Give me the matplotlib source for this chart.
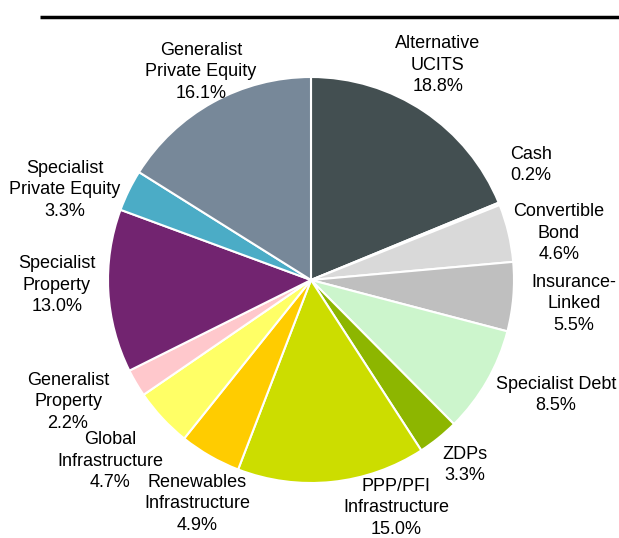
import matplotlib
matplotlib.use("Agg")
import matplotlib.pyplot as plt
import numpy as np

labels = ["Alternative\nUCITS", "Cash", "Convertible\nBond", "Insurance-\nLinked",
          "Specialist Debt", "ZDPs", "PPP/PFI\nInfrastructure", "Renewables\nInfrastructure",
          "Global\nInfrastructure", "Generalist\nProperty", "Specialist\nProperty",
          "Specialist\nPrivate Equity", "Generalist\nPrivate Equity"]
values = [18.8, 0.2, 4.6, 5.5, 8.5, 3.3, 15.0, 4.9, 4.7, 2.2, 13.0, 3.3, 16.1]
colors = ["#434f51", "#f2f2f2", "#d9d9d9", "#bfbfbf", "#ccf5cc", "#8db600", "#ccdd00",
          "#ffcc00", "#ffff66", "#ffc8cc", "#722470", "#4bacc6", "#778899"]

# label positions in pixel coords (layout)
label_pos = [(438, 65), (510, 165), (559, 233), (574, 304), (556, 395), (465, 465),
             (396, 508), (197, 504), (110, 461), (68, 402), (57, 285), (65, 190), (201, 72)]
label_ha = ["center", "left", "center", "center", "center", "center", "center", "center",
            "center", "center", "center", "center", "center"]

W, H = 619, 538
fig = plt.figure(figsize=(W / 100, H / 100), dpi=100)
ax = fig.add_axes([0, 0, 1, 1])

cx, cy, r = 311, H - 280, 203
ax.pie(values, colors=colors, startangle=90, counterclock=False, radius=r, center=(cx, cy),
       wedgeprops=dict(edgecolor="white", linewidth=1.5), frame=False)
ax.set_xlim(0, W)
ax.set_ylim(0, H)
ax.set_aspect("equal")
ax.axis("off")

for lab, v, (px, py), ha in zip(labels, values, label_pos, label_ha):
    ax.text(px, H - py, f"{lab}\n{v:.1f}%", ha=ha, va="center", fontsize=13,
            family="Liberation Sans", color="#000000", linespacing=1.33,
            multialignment=ha)

ax.plot([40, 619], [H - 17, H - 17], color="black", linewidth=2.5, solid_capstyle="butt")

fig.savefig("out.png", dpi=100)
